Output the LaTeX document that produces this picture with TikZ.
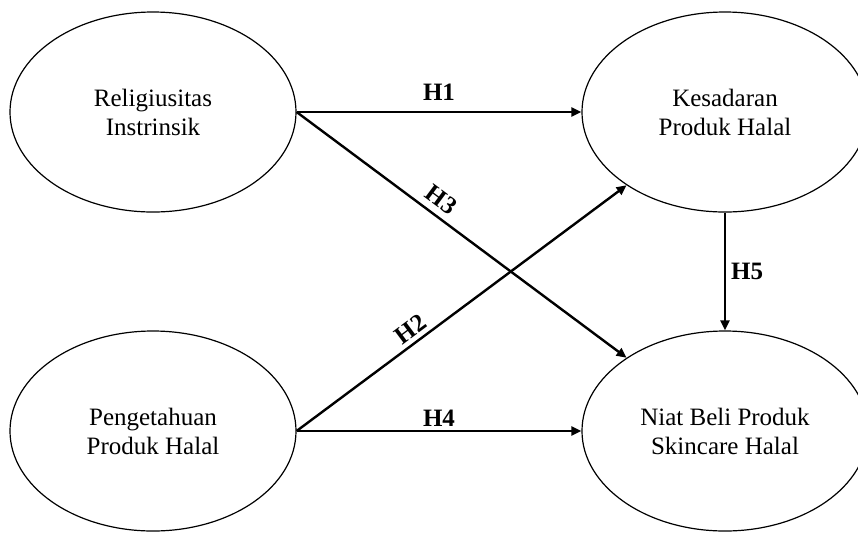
\documentclass[tikz,border=0pt]{standalone}
\usepackage{fontspec}
\setmainfont{Liberation Serif}
\usetikzlibrary{arrows.meta,shapes.geometric}
\tikzset{
  var/.style={draw, ellipse, line width=0.6pt, minimum width=143pt,
    minimum height=100pt, align=center, font=\fontsize{12.5}{14.5}\selectfont},
  hyp/.style={font=\bfseries\fontsize{12.5}{14}\selectfont},
}
\begin{document}
\begin{tikzpicture}[x=0.5pt,y=-0.5pt]
      \useasboundingbox (0,0) rectangle (858,532);
      \draw
        (153,112) node[var] (ri){Religiusitas\\Instrinsik}
        (725,112) node[var] (kp){Kesadaran\\Produk Halal}
        (153,431) node[var] (pp){Pengetahuan\\Produk Halal}
        (725,431) node[var] (nb){Niat Beli Produk\\Skincare Halal};
      \begin{scope}[-{Triangle[length=5pt,width=4.5pt]}, line width=1.2pt]
        \draw (ri.east) to node[hyp, above, inner sep=5pt]{H1} (kp.west);
        \draw (ri.east) to node[hyp, above, sloped, pos=0.41]{H3} (nb);
        \draw (pp.east) to node[hyp, above, sloped, pos=0.37, inner sep=2pt]{H2} (kp);
        \draw (pp.east) to node[hyp, above, inner sep=1.5pt]{H4} (nb.west);
        \draw (kp.south) to node[hyp, right, inner sep=2.5pt]{H5} (nb.north);
      \end{scope}
    \end{tikzpicture}
\end{document}
